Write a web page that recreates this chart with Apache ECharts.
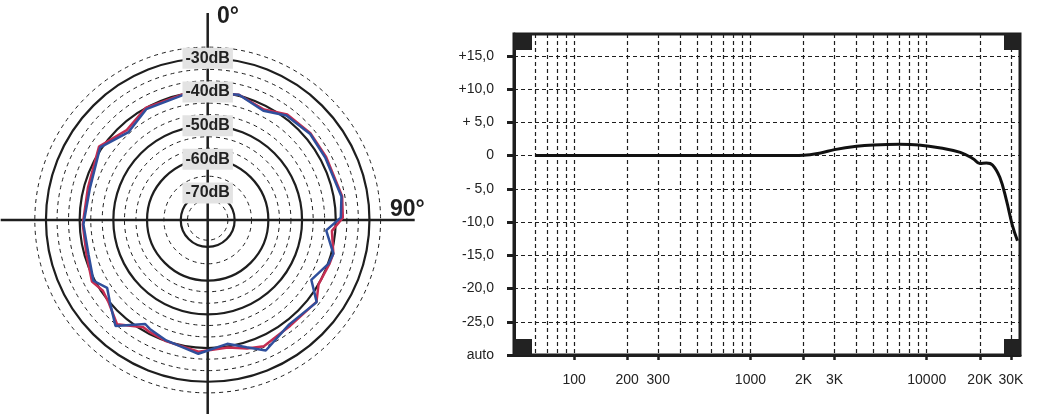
<!DOCTYPE html>
<html>
<head>
<meta charset="utf-8">
<script src="https://cdn.jsdelivr.net/npm/echarts@6/dist/echarts.min.js"></script>
<style>
html, body { margin: 0; padding: 0; background: #fff; }
#main { width: 1045px; height: 414px; }
</style>
</head>
<body>
<div id="main"></div>
<script>
//////////////////////// 极坐标：指向性图 数据 ////////////////////////
var polarAngles = [0, 14, 27, 37, 50, 62, 80, 89, 95, 105, 110, 120, 127, 142, 156, 163, 171,
    184, 199, 208, 211, 221, 230, 236, 242, 254, 268, 285, 304, 318, 331, 349, 360];
var polarBlue = [-40.3, -39.7, -41.6, -39.2, -38.3, -38.5, -37.7, -38.5, -42.7, -39.4, -39.9, -42.5, -37.5, -38.7, -35.6, -38.5, -40.8,
    -38.2, -40.2, -41.4, -42.0, -36.3, -40.1, -42.0, -39.6, -41.2, -41.1, -41.8, -39.5, -42.9, -40.4, -40.2, -40.3];
var polarRed = [-40.3, -39.7, -41.2, -38.8, -38.1, -38.2, -37.5, -37.9, -41.0, -39.4, -39.6, -40.0, -37.6, -38.2, -37.0, -38.1, -39.7,
    -38.8, -40.0, -40.6, -40.9, -37.0, -39.7, -40.5, -39.1, -40.6, -40.9, -41.2, -39.1, -42.1, -40.0, -40.0, -40.3];
var ringSolid = [-70, -60, -50, -40, -30];
var ringDashed = [-72, -65, -56.7, -53.3, -46.7, -43.3, -36.7, -33.3, -26.7];
var ringLabels = [-30, -40, -50, -60, -70];

//////////////////////// 频率响应曲线 数据 ////////////////////////
var respFreq = [60, 100, 200, 500, 1000, 1500, 2000, 2500, 3000, 4000, 5000, 7000, 9000, 12000, 15500, 18400, 20000, 21800, 23600, 26000, 28300, 30600, 32700];
var respDb = [0, 0, 0, 0, 0, 0, 0.05, 0.4, 0.9, 1.4, 1.6, 1.7, 1.6, 1.15, 0.5, -0.5, -1.2, -1.1, -1.4, -3.3, -6.7, -10.5, -12.8];
var freqTicks = [100, 200, 300, 1000, 2000, 3000, 10000, 20000, 30000];
var freqLabels = ['100', '200', '300', '1000', '2K', '3K', '10000', '20K', '30K'];
var freqGrid = [60, 70, 80, 90, 100, 200, 300, 400, 500, 600, 700, 800, 900, 1000,
    2000, 3000, 4000, 5000, 6000, 7000, 8000, 9000, 10000, 20000, 30000];
var dbTicks = [-30, -25, -20, -15, -10, -5, 0, 5, 10, 15];
var dbLabels = ['auto', '-25,0', '-20,0', '-15,0', '-10,0', '- 5,0', '0', '+ 5,0', '+10,0', '+15,0'];

var fontName = 'Liberation Sans';
var ink = '#1e1e1e';

// 极坐标几何
var pCenter = [207.7, 220];
var pRadius = 207;
var rMin = -78;
var rMax = rMin + pRadius / 3.37;

function zip(a, b) {
    var out = [];
    for (var i = 0; i < a.length; i++) {
        out.push([a[i], b[i]]);
    }
    return out;
}

function hiddenAngle(idx) {
    return {
        polarIndex: idx, type: 'value', min: 0, max: 360, startAngle: 90, clockwise: true,
        axisLine: {show: false}, axisTick: {show: false}, axisLabel: {show: false}, splitLine: {show: false}
    };
}

var chart = echarts.init(document.getElementById('main'), null, {renderer: 'canvas'});

var option = {
    animation: false,
    backgroundColor: '#fff',
    textStyle: {fontFamily: fontName},
    title: [
        {text: '0°', left: 212, top: 0, textStyle: {fontFamily: fontName, fontSize: 23, fontWeight: 'bold', color: ink}},
        {text: '90°', left: 385, top: 193, textStyle: {fontFamily: fontName, fontSize: 23, fontWeight: 'bold', color: ink}}
    ],
    polar: [
        {center: pCenter, radius: pRadius},
        {center: pCenter, radius: pRadius},
        {center: pCenter, radius: pRadius}
    ],
    angleAxis: [
        {
            polarIndex: 0, type: 'value', min: 0, max: 360, interval: 90, startAngle: 90, clockwise: true,
            axisLine: {show: false}, axisTick: {show: false}, axisLabel: {show: false},
            splitLine: {show: true, lineStyle: {color: ink, width: 2.5, type: 'solid'}}
        },
        hiddenAngle(1),
        hiddenAngle(2)
    ],
    radiusAxis: [
        {
            polarIndex: 0, type: 'value', min: rMin, max: rMax,
            axisLine: {show: false},
            axisTick: {show: false, customValues: ringSolid},
            axisLabel: {show: false},
            splitLine: {show: true, lineStyle: {color: ink, width: 2.2, type: 'solid'}}
        },
        {
            polarIndex: 1, type: 'value', min: rMin, max: rMax,
            axisLine: {show: false},
            axisTick: {show: false, customValues: ringDashed},
            axisLabel: {show: false},
            splitLine: {show: true, lineStyle: {color: ink, width: 1, type: [4, 4]}}
        },
        {
            polarIndex: 2, type: 'value', min: rMin, max: rMax, z: 10,
            axisLine: {show: false},
            axisTick: {show: false, customValues: ringLabels},
            splitLine: {show: false},
            axisLabel: {
                show: true, customValues: ringLabels, margin: 0, align: 'center', verticalAlign: 'middle',
                formatter: '{value}dB', fontFamily: fontName, fontSize: 16, fontWeight: 'bold', color: '#222',
                backgroundColor: '#e3e3e3', padding: [5, 3, 0, 3]
            }
        }
    ],
    grid: {
        left: 514, right: 25, top: 34, bottom: 59,
        show: true, borderColor: ink, borderWidth: 3, backgroundColor: 'transparent'
    },
    xAxis: [
        {
            type: 'log', logBase: 10, min: 45.6, max: 33800, position: 'bottom',
            axisLine: {show: true, onZero: false, lineStyle: {color: ink, width: 3}},
            axisTick: {show: true, customValues: freqTicks, length: 5, lineStyle: {color: ink, width: 2.5}},
            axisLabel: {
                customValues: freqTicks, margin: 18, fontSize: 14, color: '#222', fontFamily: fontName,
                formatter: function (v) {
                    for (var i = 0; i < freqTicks.length; i++) {
                        if (Math.abs(freqTicks[i] - v) < 0.5) return freqLabels[i];
                    }
                    return '';
                }
            },
            splitLine: {show: false}
        },
        {
            type: 'log', logBase: 10, min: 45.6, max: 33800, position: 'bottom',
            axisLine: {show: false, onZero: false},
            axisTick: {show: false, customValues: freqGrid},
            axisLabel: {show: false},
            splitLine: {show: true, lineStyle: {color: ink, width: 1.2, type: [4, 3]}}
        }
    ],
    yAxis: {
        type: 'value', min: -30, max: 18.3,
        axisLine: {show: true, onZero: false, lineStyle: {color: ink, width: 3}},
        axisTick: {show: true, customValues: dbTicks, length: 7, lineStyle: {color: ink, width: 3}},
        axisLabel: {
            customValues: dbTicks, margin: 20, fontSize: 14, color: '#222', fontFamily: fontName,
            formatter: function (v) {
                var i = dbTicks.indexOf(Math.round(v));
                return i < 0 ? '' : dbLabels[i];
            }
        },
        splitLine: {show: true, lineStyle: {color: ink, width: 1.2, type: [4, 3]}}
    },
    graphic: [
        {type: 'rect', left: 514, top: 34, shape: {width: 18, height: 16}, style: {fill: '#222'}, z: 10},
        {type: 'rect', left: 514, top: 339, shape: {width: 18, height: 16}, style: {fill: '#222'}, z: 10},
        {type: 'rect', left: 1004, top: 34, shape: {width: 16, height: 16}, style: {fill: '#222'}, z: 10},
        {type: 'rect', left: 1004, top: 339, shape: {width: 16, height: 16}, style: {fill: '#222'}, z: 10}
    ],
    series: [
        {
            name: 'red', type: 'line', coordinateSystem: 'polar', polarIndex: 0,
            data: zip(polarRed, polarAngles), symbol: 'none', silent: true,
            lineStyle: {color: '#c42d52', width: 2.5}
        },
        {
            name: 'blue', type: 'line', coordinateSystem: 'polar', polarIndex: 0,
            data: zip(polarBlue, polarAngles), symbol: 'none', silent: true,
            lineStyle: {color: '#2f4f9c', width: 2.5}
        },
        {
            name: 'response', type: 'line', xAxisIndex: 0, yAxisIndex: 0,
            data: zip(respFreq, respDb), symbol: 'none', smooth: 0.4, silent: true,
            lineStyle: {color: '#111', width: 3}
        }
    ]
};

chart.setOption(option);
</script>
</body>
</html>
